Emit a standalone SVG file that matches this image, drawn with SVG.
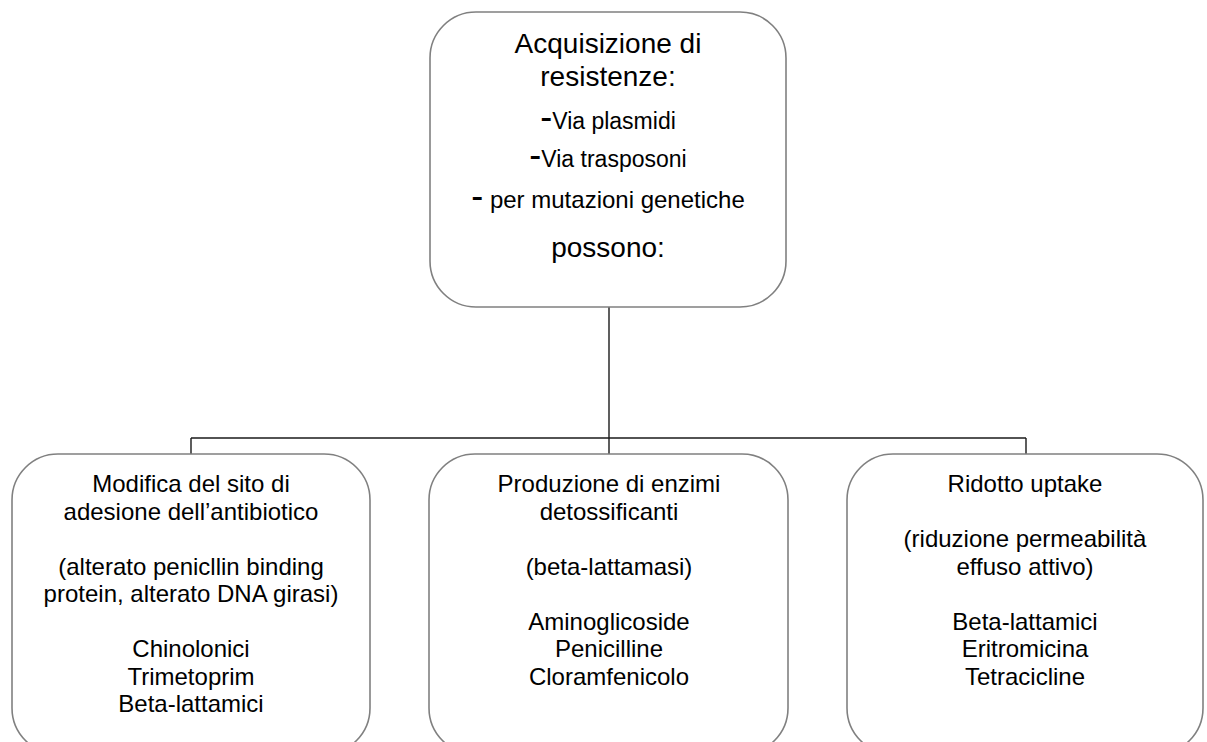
<svg xmlns="http://www.w3.org/2000/svg" width="1207" height="742" viewBox="0 0 1207 742">
<style>
.box{fill:#fff;stroke:#808080;stroke-width:1.6}
.t{font-family:"Liberation Sans",Arial,sans-serif;fill:#000;text-anchor:middle}
.big{font-size:28px}
.mid{font-size:23px}
.sm{font-size:24px}
.dash{font-size:36px}
.conn{fill:none;stroke:#1a1a1a;stroke-width:1.4}
</style>
<rect width="1207" height="742" fill="#fff"/>
<g id="connectors">
<path class="conn" d="M609 307 V438"/>
<path class="conn" d="M191 438 H1026"/>
<path class="conn" d="M191 438 V454 M609 438 V454 M1026 438 V454"/>
</g>
<g id="root">
<rect class="box" x="430" y="12" width="356" height="295" rx="46" ry="46"/>
<text class="t big" x="608" y="53">Acquisizione di</text>
<text class="t big" x="608" y="86">resistenze:</text>
<text class="t mid" x="608" y="129"><tspan class="dash">-</tspan>Via plasmidi</text>
<text class="t mid" x="608" y="167"><tspan class="dash">-</tspan>Via trasposoni</text>
<text class="t sm" x="608" y="208"><tspan class="dash">-</tspan> per mutazioni genetiche</text>
<text class="t big" x="608" y="257">possono:</text>
</g>
<g id="node-modifica">
<rect class="box" x="12" y="454" width="358" height="300" rx="46" ry="46"/>
<text class="t sm" x="191" y="492">Modifica del sito di</text>
<text class="t sm" x="191" y="519.5">adesione dell’antibiotico</text>
<text class="t sm" x="191" y="574.5">(alterato penicllin binding</text>
<text class="t sm" x="191" y="602">protein, alterato DNA girasi)</text>
<text class="t sm" x="191" y="657">Chinolonici</text>
<text class="t sm" x="191" y="684.5">Trimetoprim</text>
<text class="t sm" x="191" y="712">Beta-lattamici</text>
</g>
<g id="node-enzimi">
<rect class="box" x="429" y="454" width="359" height="300" rx="46" ry="46"/>
<text class="t sm" x="609" y="492">Produzione di enzimi</text>
<text class="t sm" x="609" y="519.5">detossificanti</text>
<text class="t sm" x="609" y="574.5">(beta-lattamasi)</text>
<text class="t sm" x="609" y="629.5">Aminoglicoside</text>
<text class="t sm" x="609" y="657">Penicilline</text>
<text class="t sm" x="609" y="684.5">Cloramfenicolo</text>
</g>
<g id="node-uptake">
<rect class="box" x="847" y="454" width="356" height="300" rx="46" ry="46"/>
<text class="t sm" x="1025" y="492">Ridotto uptake</text>
<text class="t sm" x="1025" y="547">(riduzione permeabilità</text>
<text class="t sm" x="1025" y="574.5">effuso attivo)</text>
<text class="t sm" x="1025" y="629.5">Beta-lattamici</text>
<text class="t sm" x="1025" y="657">Eritromicina</text>
<text class="t sm" x="1025" y="684.5">Tetracicline</text>
</g>
</svg>
